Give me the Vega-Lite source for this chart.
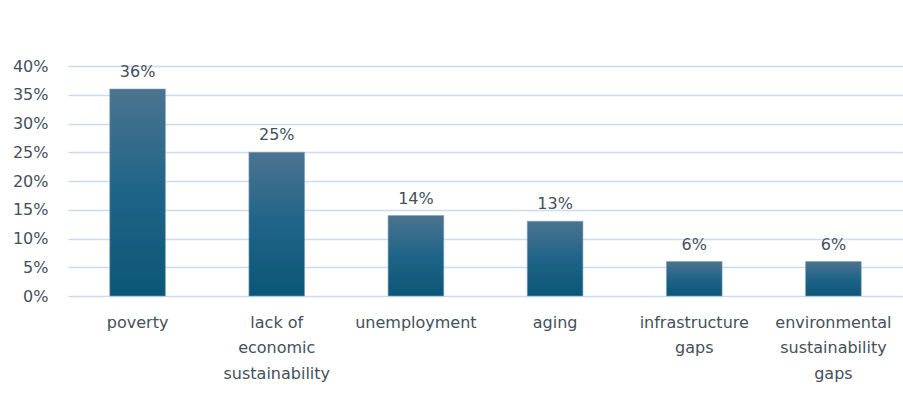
{
  "$schema": "https://vega.github.io/schema/vega-lite/v6.json",
  "autosize": {"type": "none"},
  "padding": {"left": 68, "top": 66, "right": 0, "bottom": 123},
  "width": 835,
  "height": 230,
  "background": "white",
  "data": {
    "values": [
      {"issue": "poverty", "share": 0.36},
      {"issue": "lack of economic sustainability", "share": 0.25},
      {"issue": "unemployment", "share": 0.14},
      {"issue": "aging", "share": 0.13},
      {"issue": "infrastructure gaps", "share": 0.06},
      {"issue": "environmental sustainability gaps", "share": 0.06}
    ]
  },
  "encoding": {
    "x": {
      "field": "issue",
      "type": "nominal",
      "sort": null,
      "scale": {"paddingInner": 0.6, "paddingOuter": 0.3},
      "axis": {
        "title": null,
        "labelAngle": 0,
        "domain": false,
        "ticks": false,
        "labelPadding": 26,
        "labelFont": "DejaVu Sans",
        "labelFontSize": 16,
        "labelColor": "#44505c",
        "labelLineHeight": 25.5,
        "labelBaseline": "middle",
        "labelLimit": 200,
        "labelExpr": "datum.label == 'lack of economic sustainability' ? ['lack of', 'economic', 'sustainability'] : datum.label == 'infrastructure gaps' ? ['infrastructure', 'gaps'] : datum.label == 'environmental sustainability gaps' ? ['environmental', 'sustainability', 'gaps'] : datum.label"
      }
    },
    "y": {
      "field": "share",
      "type": "quantitative",
      "scale": {"domain": [0, 0.4], "nice": false},
      "axis": {
        "title": null,
        "format": ".0%",
        "values": [0, 0.05, 0.1, 0.15, 0.2, 0.25, 0.3, 0.35, 0.4],
        "domain": false,
        "ticks": false,
        "labelPadding": 20,
        "labelFont": "DejaVu Sans",
        "labelFontSize": 16,
        "labelColor": "#44505c",
        "gridColor": "#c9dcf2",
        "gridWidth": 1.5
      }
    }
  },
  "layer": [
    {
      "mark": {
        "type": "bar",
        "stroke": "#7fa2bd",
        "strokeWidth": 0.6,
        "color": {
          "gradient": "linear",
          "x1": 0, "y1": 0, "x2": 0, "y2": 1,
          "stops": [
            {"offset": 0, "color": "#4b7390"},
            {"offset": 0.5, "color": "#1f6488"},
            {"offset": 1, "color": "#0b5677"}
          ]
        }
      }
    },
    {
      "mark": {
        "type": "text",
        "baseline": "bottom",
        "dy": -9,
        "font": "DejaVu Sans",
        "fontSize": 16,
        "color": "#44505c"
      },
      "encoding": {
        "text": {"field": "share", "type": "quantitative", "format": ".0%"}
      }
    }
  ],
  "config": {"view": {"stroke": null}}
}
